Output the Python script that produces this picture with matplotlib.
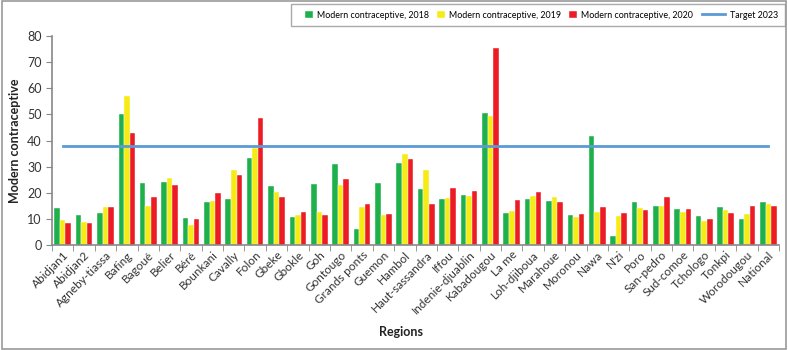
import matplotlib
matplotlib.use("Agg")
import matplotlib.pyplot as plt
import numpy as np
from matplotlib.patches import Rectangle

plt.rcParams['font.family'] = ['Lato', 'DejaVu Sans']

regions = ["Abidjan1", "Abidjan2", "Agneby-tiassa", "Bafing", "Bagoué", "Belier", "Béré",
           "Bounkani", "Cavally", "Folon", "Gbeke", "Gbokle", "Goh", "Gontougo",
           "Grands ponts", "Guemon", "Hambol", "Haut-sassandra", "Iffou", "Indenie-djuablin",
           "Kabadougou", "La me", "Loh-djiboua", "Marahoue", "Moronou", "Nawa", "N'zi",
           "Poro", "San-pedro", "Sud-comoe", "Tchologo", "Tonkpi", "Worodougou", "National"]

mc_2018 = [14.0, 11.5, 12.2, 50.0, 23.7, 24.3, 10.2, 16.3, 17.8, 33.2, 22.4, 10.6, 23.3, 31.2,
           6.0, 23.9, 31.5, 21.4, 17.7, 19.1, 50.7, 12.2, 17.7, 16.8, 11.3, 41.8, 3.3,
           16.4, 14.9, 13.7, 11.2, 14.7, 10.0, 16.6]
mc_2019 = [9.5, 8.7, 14.5, 56.9, 15.0, 25.8, 7.6, 16.8, 28.8, 37.3, 20.2, 11.3, 12.6, 23.0,
           14.5, 11.3, 34.9, 28.8, 18.1, 18.8, 49.4, 13.1, 18.8, 18.3, 10.6, 12.6, 11.2,
           14.3, 14.9, 12.7, 9.1, 13.5, 12.0, 15.6]
mc_2020 = [8.4, 8.5, 14.5, 42.9, 18.5, 23.1, 10.1, 19.8, 26.7, 48.5, 18.3, 12.6, 11.3, 25.3,
           15.6, 12.0, 32.9, 15.6, 21.8, 20.6, 75.6, 17.2, 20.2, 16.6, 12.0, 14.4, 12.2,
           13.4, 18.2, 13.7, 9.9, 12.4, 14.9, 15.1]
target_2023 = 38

fig = plt.figure(figsize=(7.88, 3.5), dpi=100)
ax = fig.add_axes([0.066, 0.3, 0.9226, 0.597])

x = np.arange(len(regions))
w = 0.26
c_g, c_y, c_r, c_b = "#1DB04B", "#F6EB14", "#ED1C24", "#5B9BD5"
ax.bar(x - w, mc_2018, w, color=c_g, label="Modern contraceptive, 2018", edgecolor='white', linewidth=0.3)
ax.bar(x, mc_2019, w, color=c_y, label="Modern contraceptive, 2019", edgecolor='white', linewidth=0.3)
ax.bar(x + w, mc_2020, w, color=c_r, label="Modern contraceptive, 2020", edgecolor='white', linewidth=0.3)
ax.plot([x[0], x[-1]], [target_2023, target_2023], color=c_b, lw=2, label="Target 2023")

ax.set_xlim(-0.5, len(regions) - 0.5)
ax.set_ylim(0, 80)
ax.set_yticks(range(0, 81, 10))
ax.set_xticks(x)
ax.set_xticklabels(regions, rotation=45, ha='right', rotation_mode='anchor', fontsize=8.5, color='#333333')
ax.tick_params(axis='x', length=0, pad=3)
ax.set_xticks(np.arange(-0.5, len(regions), 1), minor=True)
ax.tick_params(axis='x', which='minor', length=4, color='#888888', direction='out')
ax.tick_params(axis='y', labelsize=9, colors='#333333', length=4, color='#888888')
for s in ['top', 'right']:
    ax.spines[s].set_visible(False)
for s in ['left', 'bottom']:
    ax.spines[s].set_color('#888888')
    ax.spines[s].set_linewidth(1.2)

ax.set_ylabel("Modern contraceptive", fontsize=9, fontweight='bold', color='#222222')
ax.set_xlabel("Regions", fontsize=9, fontweight='bold', color='#222222')
ax.xaxis.set_label_coords(0.48, -0.415)
ax.xaxis.label.set_va('center')

handles, labels = ax.get_legend_handles_labels()
# handles: [line, bar2018, bar2019, bar2020]
FS = 6.4
ytop = 1 - 15.0 / 350  # vertical centre of legend row
right = 1 - 10.0 / 788
leg2 = fig.legend([handles[0]], [labels[0]], loc='center right', bbox_to_anchor=(right, ytop),
                  fontsize=FS, frameon=False, handlelength=2.6, handletextpad=0.5,
                  borderpad=0.0, borderaxespad=0.0)
leg2.legend_handles[0].set_linewidth(2)
fig.canvas.draw()
r = fig.canvas.get_renderer()
bb2 = leg2.get_window_extent(r)
leg1_right = (bb2.x0 - 9) / fig.bbox.width
leg1 = fig.legend(handles[1:], labels[1:], loc='center right', bbox_to_anchor=(leg1_right, ytop),
                  ncol=3, fontsize=FS, frameon=False, handlelength=0.85, handleheight=0.85,
                  columnspacing=0.9, handletextpad=0.5, borderpad=0.0, borderaxespad=0.0)
fig.canvas.draw()
bb1 = leg1.get_window_extent(r)
W, H = fig.bbox.width, fig.bbox.height
x0 = (bb1.x0 - 14) / W
x1 = (bb2.x1 + 7) / W
y0 = 1 - 26.0 / 350
y1 = 1 - 4.0 / 350
fig.patches.append(Rectangle((x0, y0), x1 - x0, y1 - y0, transform=fig.transFigure,
                             fill=True, facecolor='white', edgecolor='#aaaaaa', linewidth=1.0, zorder=0))

fig.patches.append(Rectangle((0.002, 0.003), 0.996, 0.994, transform=fig.transFigure,
                             fill=False, edgecolor='#999999', linewidth=1.2))

fig.savefig("out.png", dpi=100)
